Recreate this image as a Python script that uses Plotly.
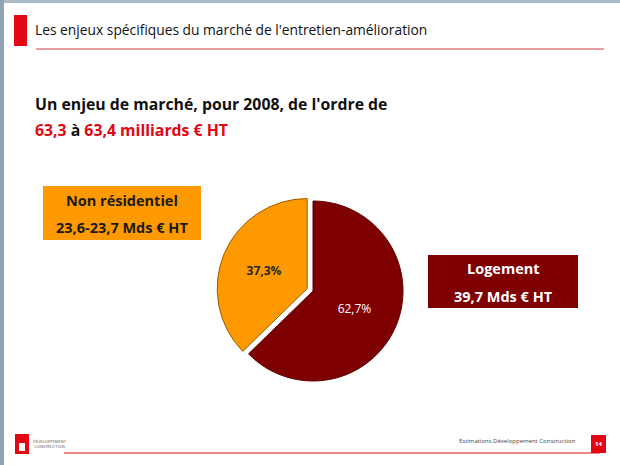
import plotly.graph_objects as go

W, H = 620, 465

segments = ["Logement", "Non résidentiel"]
shares = [62.7, 37.3]
share_labels = ["62,7%", "<b>37,3%</b>"]
box_titles = ["Logement", "Non résidentiel"]
box_values = ["39,7 Mds € HT", "23,6-23,7 Mds € HT"]
title_text = "Les enjeux spécifiques du marché de l'entretien-amélioration"
subtitle_line1 = "Un enjeu de marché, pour 2008, de l'ordre de"
total_low = "63,3"
total_high = "63,4 milliards € HT"
footer_source = "Estimations Développement Construction"
page_number = "14"

ORANGE = "#FF9900"
DARKRED = "#7F0000"
RED = "#E30613"
FONT = "Open Sans, Lato, sans-serif"


def px(x):
    return x / W


def py(y):
    return 1 - y / H


pull = 0.07
cx, cy, r = 313, 291, 90
half = r * (1 + pull)

fig = go.Figure()
fig.add_trace(go.Pie(
    labels=segments,
    values=shares,
    text=share_labels,
    textinfo="text",
    textposition="inside",
    insidetextorientation="horizontal",
    sort=False,
    direction="clockwise",
    rotation=0,
    pull=[0, pull],
    marker=dict(colors=[DARKRED, ORANGE],
                line=dict(color=["#5A0000", "#9A5A00"], width=1)),
    textfont=dict(family=FONT, size=12, color=["white", "#2a2a2a"]),
    showlegend=False,
    hoverinfo="label+percent",
    domain=dict(x=[px(cx - half), px(cx + half)],
                y=[py(cy + half), py(cy - half)]),
))

shapes = []
# slide frame borders
shapes.append(dict(type="rect", xref="paper", yref="paper", x0=0, x1=1,
                   y0=py(3), y1=1, fillcolor="#A9BAC6", line_width=0, layer="below"))
shapes.append(dict(type="rect", xref="paper", yref="paper", x0=0, x1=px(4),
                   y0=0, y1=1, fillcolor="#8FA3B3", line_width=0, layer="below"))
# red title bar
shapes.append(dict(type="rect", xref="paper", yref="paper", x0=px(14), x1=px(27),
                   y0=py(46), y1=py(15), fillcolor=RED, line_width=0))
# title underline
shapes.append(dict(type="line", xref="paper", yref="paper", x0=px(36), x1=px(604),
                   y0=py(49), y1=py(49), line=dict(color="#D98080", width=1.5)))
# orange box
shapes.append(dict(type="rect", xref="paper", yref="paper", x0=px(43), x1=px(201),
                   y0=py(240), y1=py(186), fillcolor=ORANGE, line_width=0))
# logement box
shapes.append(dict(type="rect", xref="paper", yref="paper", x0=px(428), x1=px(578),
                   y0=py(308), y1=py(255), fillcolor=DARKRED, line_width=0))
# footer line
shapes.append(dict(type="line", xref="paper", yref="paper", x0=px(64), x1=px(600),
                   y0=py(453), y1=py(453), line=dict(color=RED, width=1)))
# footer logo
shapes.append(dict(type="rect", xref="paper", yref="paper", x0=px(15), x1=px(29),
                   y0=py(454), y1=py(434), fillcolor=RED, line_width=0))
shapes.append(dict(type="rect", xref="paper", yref="paper", x0=px(19), x1=px(25),
                   y0=py(451), y1=py(443), fillcolor="white", line_width=0))
# page number box
shapes.append(dict(type="rect", xref="paper", yref="paper", x0=px(591), x1=px(606),
                   y0=py(453), y1=py(435), fillcolor=RED, line_width=0))

ann = []


def add_text(x, y, text, size, color="#111111", xanchor="left", bold=False):
    ann.append(dict(x=px(x), y=py(y), xref="paper", yref="paper",
                    text=f"<b>{text}</b>" if bold else text,
                    showarrow=False, xanchor=xanchor, yanchor="middle",
                    font=dict(family=FONT, size=size, color=color)))


add_text(33, 30, title_text, 13.8, "#111111")
add_text(33, 104, subtitle_line1, 15.8, "#111111", bold=True)
add_text(33, 130,
         f"<span style='color:{RED}'>{total_low}</span> à "
         f"<span style='color:{RED}'>{total_high}</span>", 15.8, "#111111", bold=True)
add_text(122, 200, box_titles[1], 14.5, "#1a1a1a", "center", bold=True)
add_text(122, 227, box_values[1], 14.5, "#1a1a1a", "center", bold=True)
add_text(503, 268, box_titles[0], 14.5, "white", "center", bold=True)
add_text(503, 296, box_values[0], 14.5, "white", "center", bold=True)
add_text(31, 444, "DÉVELOPPEMENT<br>CONSTRUCTION", 4, "#555555")
add_text(578, 441, footer_source, 6, "#444444", "right")
add_text(598.5, 444, page_number, 6, "white", "center", bold=True)

fig.update_layout(
    width=W, height=H,
    margin=dict(l=0, r=0, t=0, b=0),
    paper_bgcolor="white",
    plot_bgcolor="white",
    shapes=shapes,
    annotations=ann,
    showlegend=False,
)

fig.write_html("out.html")
